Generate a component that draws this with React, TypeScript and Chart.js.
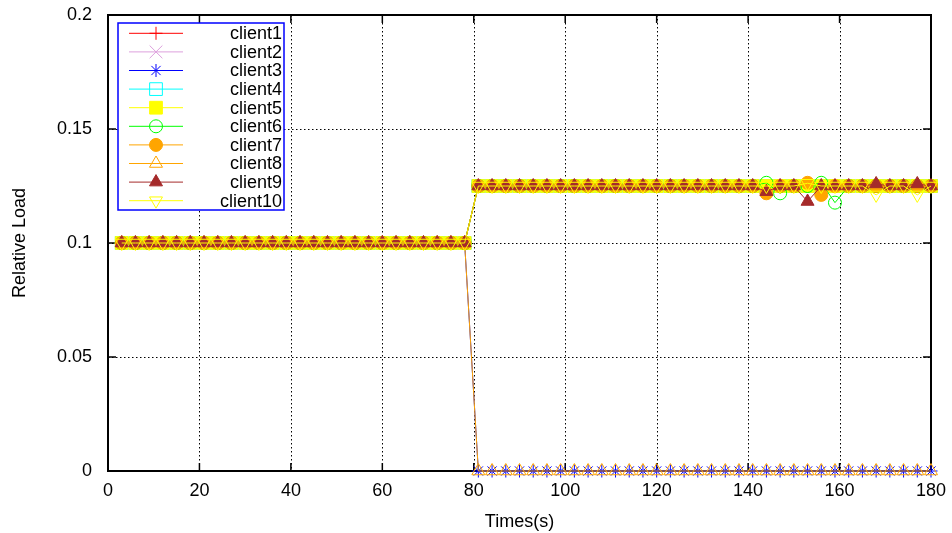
import React, { useEffect, useRef } from "react";
import { Chart, registerables } from "chart.js";
import { drawPoint } from "chart.js/helpers";

Chart.register(...registerables);

// Sample times (s)
const times = [
  3, 6, 9, 12, 15, 18, 21, 24, 27, 30, 33, 36, 39, 42, 45, 48, 51, 54, 57, 60,
  63, 66, 69, 72, 75, 78, 81, 84, 87, 90, 93, 96, 99, 102, 105, 108, 111, 114, 117, 120,
  123, 126, 129, 132, 135, 138, 141, 144, 147, 150, 153, 156, 159, 162, 165, 168, 171, 174, 177, 180,
];

// Relative load per client
const client1 = [
  0.1, 0.1, 0.1, 0.1, 0.1, 0.1, 0.1, 0.1, 0.1, 0.1, 0.1, 0.1, 0.1, 0.1, 0.1, 0.1, 0.1, 0.1, 0.1, 0.1,
  0.1, 0.1, 0.1, 0.1, 0.1, 0.1, 0.125, 0.125, 0.125, 0.125, 0.125, 0.125, 0.125, 0.125, 0.125, 0.125, 0.125, 0.125, 0.125, 0.125,
  0.125, 0.125, 0.125, 0.125, 0.125, 0.125, 0.125, 0.125, 0.125, 0.125, 0.125, 0.125, 0.125, 0.125, 0.125, 0.125, 0.125, 0.125, 0.125, 0.125,
];
const client2 = [
  0.1, 0.1, 0.1, 0.1, 0.1, 0.1, 0.1, 0.1, 0.1, 0.1, 0.1, 0.1, 0.1, 0.1, 0.1, 0.1, 0.1, 0.1, 0.1, 0.1,
  0.1, 0.1, 0.1, 0.1, 0.1, 0.1, 0.125, 0.125, 0.125, 0.125, 0.125, 0.125, 0.125, 0.125, 0.125, 0.125, 0.125, 0.125, 0.125, 0.125,
  0.125, 0.125, 0.125, 0.125, 0.125, 0.125, 0.125, 0.125, 0.125, 0.125, 0.125, 0.125, 0.125, 0.125, 0.125, 0.125, 0.125, 0.125, 0.125, 0.125,
];
const client3 = [
  0.1, 0.1, 0.1, 0.1, 0.1, 0.1, 0.1, 0.1, 0.1, 0.1, 0.1, 0.1, 0.1, 0.1, 0.1, 0.1, 0.1, 0.1, 0.1, 0.1,
  0.1, 0.1, 0.1, 0.1, 0.1, 0.1, 0, 0, 0, 0, 0, 0, 0, 0, 0, 0, 0, 0, 0, 0,
  0, 0, 0, 0, 0, 0, 0, 0, 0, 0, 0, 0, 0, 0, 0, 0, 0, 0, 0, 0,
];
const client4 = [
  0.1, 0.1, 0.1, 0.1, 0.1, 0.1, 0.1, 0.1, 0.1, 0.1, 0.1, 0.1, 0.1, 0.1, 0.1, 0.1, 0.1, 0.1, 0.1, 0.1,
  0.1, 0.1, 0.1, 0.1, 0.1, 0.1, 0.125, 0.125, 0.125, 0.125, 0.125, 0.125, 0.125, 0.125, 0.125, 0.125, 0.125, 0.125, 0.125, 0.125,
  0.125, 0.125, 0.125, 0.125, 0.125, 0.125, 0.125, 0.125, 0.125, 0.125, 0.125, 0.125, 0.125, 0.125, 0.125, 0.125, 0.125, 0.125, 0.125, 0.125,
];
const client5 = [
  0.1, 0.1, 0.1, 0.1, 0.1, 0.1, 0.1, 0.1, 0.1, 0.1, 0.1, 0.1, 0.1, 0.1, 0.1, 0.1, 0.1, 0.1, 0.1, 0.1,
  0.1, 0.1, 0.1, 0.1, 0.1, 0.1, 0.125, 0.125, 0.125, 0.125, 0.125, 0.125, 0.125, 0.125, 0.125, 0.125, 0.125, 0.125, 0.125, 0.125,
  0.125, 0.125, 0.125, 0.125, 0.125, 0.125, 0.125, 0.125, 0.125, 0.125, 0.125, 0.125, 0.125, 0.125, 0.125, 0.125, 0.125, 0.125, 0.125, 0.125,
];
const client6 = [
  0.1, 0.1, 0.1, 0.1, 0.1, 0.1, 0.1, 0.1, 0.1, 0.1, 0.1, 0.1, 0.1, 0.1, 0.1, 0.1, 0.1, 0.1, 0.1, 0.1,
  0.1, 0.1, 0.1, 0.1, 0.1, 0.1, 0.125, 0.125, 0.125, 0.125, 0.125, 0.125, 0.125, 0.125, 0.125, 0.125, 0.125, 0.125, 0.125, 0.125,
  0.125, 0.125, 0.125, 0.125, 0.125, 0.125, 0.125, 0.1264, 0.1218, 0.125, 0.125, 0.1264, 0.1177, 0.125, 0.125, 0.125, 0.125, 0.125, 0.125, 0.125,
];
const client7 = [
  0.1, 0.1, 0.1, 0.1, 0.1, 0.1, 0.1, 0.1, 0.1, 0.1, 0.1, 0.1, 0.1, 0.1, 0.1, 0.1, 0.1, 0.1, 0.1, 0.1,
  0.1, 0.1, 0.1, 0.1, 0.1, 0.1, 0.125, 0.125, 0.125, 0.125, 0.125, 0.125, 0.125, 0.125, 0.125, 0.125, 0.125, 0.125, 0.125, 0.125,
  0.125, 0.125, 0.125, 0.125, 0.125, 0.125, 0.125, 0.1218, 0.125, 0.125, 0.1264, 0.1211, 0.125, 0.125, 0.125, 0.125, 0.125, 0.125, 0.125, 0.125,
];
const client8 = [
  0.1, 0.1, 0.1, 0.1, 0.1, 0.1, 0.1, 0.1, 0.1, 0.1, 0.1, 0.1, 0.1, 0.1, 0.1, 0.1, 0.1, 0.1, 0.1, 0.1,
  0.1, 0.1, 0.1, 0.1, 0.1, 0.1, 0, 0, 0, 0, 0, 0, 0, 0, 0, 0, 0, 0, 0, 0,
  0, 0, 0, 0, 0, 0, 0, 0, 0, 0, 0, 0, 0, 0, 0, 0, 0, 0, 0, 0,
];
const client9 = [
  0.1, 0.1, 0.1, 0.1, 0.1, 0.1, 0.1, 0.1, 0.1, 0.1, 0.1, 0.1, 0.1, 0.1, 0.1, 0.1, 0.1, 0.1, 0.1, 0.1,
  0.1, 0.1, 0.1, 0.1, 0.1, 0.1, 0.125, 0.125, 0.125, 0.125, 0.125, 0.125, 0.125, 0.125, 0.125, 0.125, 0.125, 0.125, 0.125, 0.125,
  0.125, 0.125, 0.125, 0.125, 0.125, 0.125, 0.125, 0.1225, 0.125, 0.125, 0.1182, 0.125, 0.125, 0.125, 0.125, 0.1259, 0.125, 0.125, 0.1259, 0.125,
];
const client10 = [
  0.1, 0.1, 0.1, 0.1, 0.1, 0.1, 0.1, 0.1, 0.1, 0.1, 0.1, 0.1, 0.1, 0.1, 0.1, 0.1, 0.1, 0.1, 0.1, 0.1,
  0.1, 0.1, 0.1, 0.1, 0.1, 0.1, 0.125, 0.125, 0.125, 0.125, 0.125, 0.125, 0.125, 0.125, 0.125, 0.125, 0.125, 0.125, 0.125, 0.125,
  0.125, 0.125, 0.125, 0.125, 0.125, 0.125, 0.125, 0.125, 0.125, 0.125, 0.1262, 0.125, 0.125, 0.125, 0.125, 0.1211, 0.125, 0.125, 0.1211, 0.125,
];

const seriesNames = ["client1", "client2", "client3", "client4", "client5", "client6", "client7", "client8", "client9", "client10"];
const seriesValues = [client1, client2, client3, client4, client5, client6, client7, client8, client9, client10];

const xTicks = [0, 20, 40, 60, 80, 100, 120, 140, 160, 180];
const yTicks = [0, 0.05, 0.1, 0.15, 0.2];
const yTickLabels = ["0", "0.05", "0.1", "0.15", "0.2"];

const xTitle = "Times(s)";
const yTitle = "Relative Load";

// Line colour and marker for each client
const seriesStyles = [
  { color: "#ff0000", marker: "cross", radius: 6.5, filled: false, rotation: 0 },
  { color: "#dda0dd", marker: "crossRot", radius: 9, filled: false, rotation: 0 },
  { color: "#0000ff", marker: "star", radius: 6.5, filled: false, rotation: 0 },
  { color: "#00ffff", marker: "rect", radius: 9, filled: false, rotation: 0 },
  { color: "#ffff00", marker: "rect", radius: 9, filled: true, rotation: 0 },
  { color: "#00ff00", marker: "circle", radius: 6.5, filled: false, rotation: 0 },
  { color: "#ffa500", marker: "circle", radius: 6.5, filled: true, rotation: 0 },
  { color: "#ffa500", marker: "triangle", radius: 7.5, filled: false, rotation: 0 },
  { color: "#a52a2a", marker: "triangle", radius: 7.5, filled: true, rotation: 0 },
  { color: "#ffff00", marker: "triangle", radius: 7.5, filled: false, rotation: 180 },
];

const FONT = "'Liberation Sans', Arial, Helvetica, sans-serif";

// Dotted grid, inward tick marks on all four sides and the plot frame
const framePlugin = {
  id: "frame",
  beforeDatasetsDraw(chart: any) {
    const { ctx, chartArea: a, scales } = chart;
    const xs = scales.x;
    const ys = scales.y;
    ctx.save();
    ctx.strokeStyle = "#000";
    ctx.lineWidth = 1;
    ctx.setLineDash([1.5, 2.5]);
    for (const v of xTicks.slice(1, -1)) {
      const px = Math.round(xs.getPixelForValue(v)) + 0.5;
      ctx.beginPath();
      ctx.moveTo(px, a.top);
      ctx.lineTo(px, a.bottom);
      ctx.stroke();
    }
    for (const v of yTicks.slice(1, -1)) {
      const py = Math.round(ys.getPixelForValue(v)) + 0.5;
      ctx.beginPath();
      ctx.moveTo(a.left, py);
      ctx.lineTo(a.right, py);
      ctx.stroke();
    }
    ctx.setLineDash([]);
    const len = 8;
    ctx.lineWidth = 1.5;
    for (const v of xTicks) {
      const px = xs.getPixelForValue(v);
      ctx.beginPath();
      ctx.moveTo(px, a.bottom);
      ctx.lineTo(px, a.bottom - len);
      ctx.moveTo(px, a.top);
      ctx.lineTo(px, a.top + len);
      ctx.stroke();
    }
    for (const v of yTicks) {
      const py = ys.getPixelForValue(v);
      ctx.beginPath();
      ctx.moveTo(a.left, py);
      ctx.lineTo(a.left + len, py);
      ctx.moveTo(a.right, py);
      ctx.lineTo(a.right - len, py);
      ctx.stroke();
    }
    ctx.lineWidth = 2;
    ctx.strokeRect(a.left, a.top, a.right - a.left, a.bottom - a.top);
    ctx.restore();
  },
};

// Boxed key in the upper-left corner of the plot
const keyPlugin = {
  id: "key",
  afterDatasetsDraw(chart: any) {
    const { ctx, chartArea: a } = chart;
    const left = a.left + 10;
    const top = a.top + 8;
    const width = 166;
    const height = 187;
    ctx.save();
    ctx.fillStyle = "#fff";
    ctx.fillRect(left, top, width, height);
    ctx.strokeStyle = "#0000ff";
    ctx.lineWidth = 1.5;
    ctx.strokeRect(left, top, width, height);
    const rowGap = 18.6;
    const firstRow = top + 10.3;
    seriesNames.forEach((name, i) => {
      const st = seriesStyles[i];
      const y = firstRow + i * rowGap;
      ctx.strokeStyle = st.color;
      ctx.lineWidth = 1;
      ctx.beginPath();
      ctx.moveTo(left + 11, y);
      ctx.lineTo(left + 65, y);
      ctx.stroke();
      ctx.fillStyle = st.filled ? st.color : "rgba(0,0,0,0)";
      ctx.strokeStyle = st.color;
      ctx.lineWidth = 1;
      drawPoint(ctx, { pointStyle: st.marker, rotation: st.rotation, radius: st.radius, borderWidth: 1 } as any, left + 38, y);
      ctx.fillStyle = "#000";
      ctx.font = `18px ${FONT}`;
      ctx.textAlign = "right";
      ctx.textBaseline = "middle";
      ctx.fillText(name, left + width - 2, y + 1);
    });
    ctx.restore();
  },
};

export default function App() {
  const canvasRef = useRef<HTMLCanvasElement | null>(null);

  useEffect(() => {
    const canvas = canvasRef.current;
    if (!canvas) return;

    const datasets = seriesValues.map((vals, i) => {
      const st = seriesStyles[i];
      return {
        label: seriesNames[i],
        data: times.map((t, k) => ({ x: t, y: vals[k] })),
        borderColor: st.color,
        backgroundColor: st.color,
        borderWidth: 1,
        pointStyle: st.marker,
        pointRadius: st.radius,
        pointRotation: st.rotation,
        pointBorderColor: st.color,
        pointBackgroundColor: st.filled ? st.color : "rgba(0,0,0,0)",
        pointBorderWidth: 1,
        tension: 0,
        fill: false,
        clip: false,
        order: seriesNames.length - i,
      };
    });

    const chart = new Chart(canvas, {
      type: "line",
      data: { datasets },
      options: {
        animation: false,
        responsive: false,
        devicePixelRatio: 1,
        layout: { padding: { left: 0, top: 15, right: 21, bottom: 0 } },
        plugins: { legend: { display: false }, tooltip: { enabled: false } },
        scales: {
          x: {
            type: "linear",
            min: 0,
            max: 180,
            afterBuildTicks: (s: any) => {
              s.ticks = xTicks.map((v) => ({ value: v }));
            },
            afterFit: (s: any) => {
              s.height = 62;
              s.paddingLeft = 0;
              s.paddingRight = 0;
            },
            grid: { display: false, drawTicks: false },
            border: { display: false },
            ticks: {
              color: "#000",
              padding: 9,
              maxRotation: 0,
              font: { family: FONT, size: 18 },
              callback: (v: any) => String(v),
            },
            title: {
              display: true,
              text: xTitle,
              color: "#000",
              font: { family: FONT, size: 18 },
              padding: { top: 3, bottom: 0 },
            },
          },
          y: {
            type: "linear",
            min: 0,
            max: 0.2,
            afterBuildTicks: (s: any) => {
              s.ticks = yTicks.map((v) => ({ value: v }));
            },
            afterFit: (s: any) => {
              s.width = 108;
              s.paddingTop = 0;
              s.paddingBottom = 0;
            },
            grid: { display: false, drawTicks: false },
            border: { display: false },
            ticks: {
              color: "#000",
              padding: 16,
              font: { family: FONT, size: 18 },
              callback: (v: any) => {
                const idx = yTicks.findIndex((t) => Math.abs(t - v) < 1e-9);
                return idx >= 0 ? yTickLabels[idx] : "";
              },
            },
            title: {
              display: true,
              text: yTitle,
              color: "#000",
              font: { family: FONT, size: 18 },
              padding: { top: 9, bottom: 0 },
            },
          },
        },
      },
      plugins: [framePlugin, keyPlugin],
    });

    return () => chart.destroy();
  }, []);

  return (
    <div style={{ position: "fixed", left: 0, top: 0, width: 952, height: 533, background: "#fff" }}>
      <canvas ref={canvasRef} width={952} height={533} style={{ display: "block" }} />
    </div>
  );
}
